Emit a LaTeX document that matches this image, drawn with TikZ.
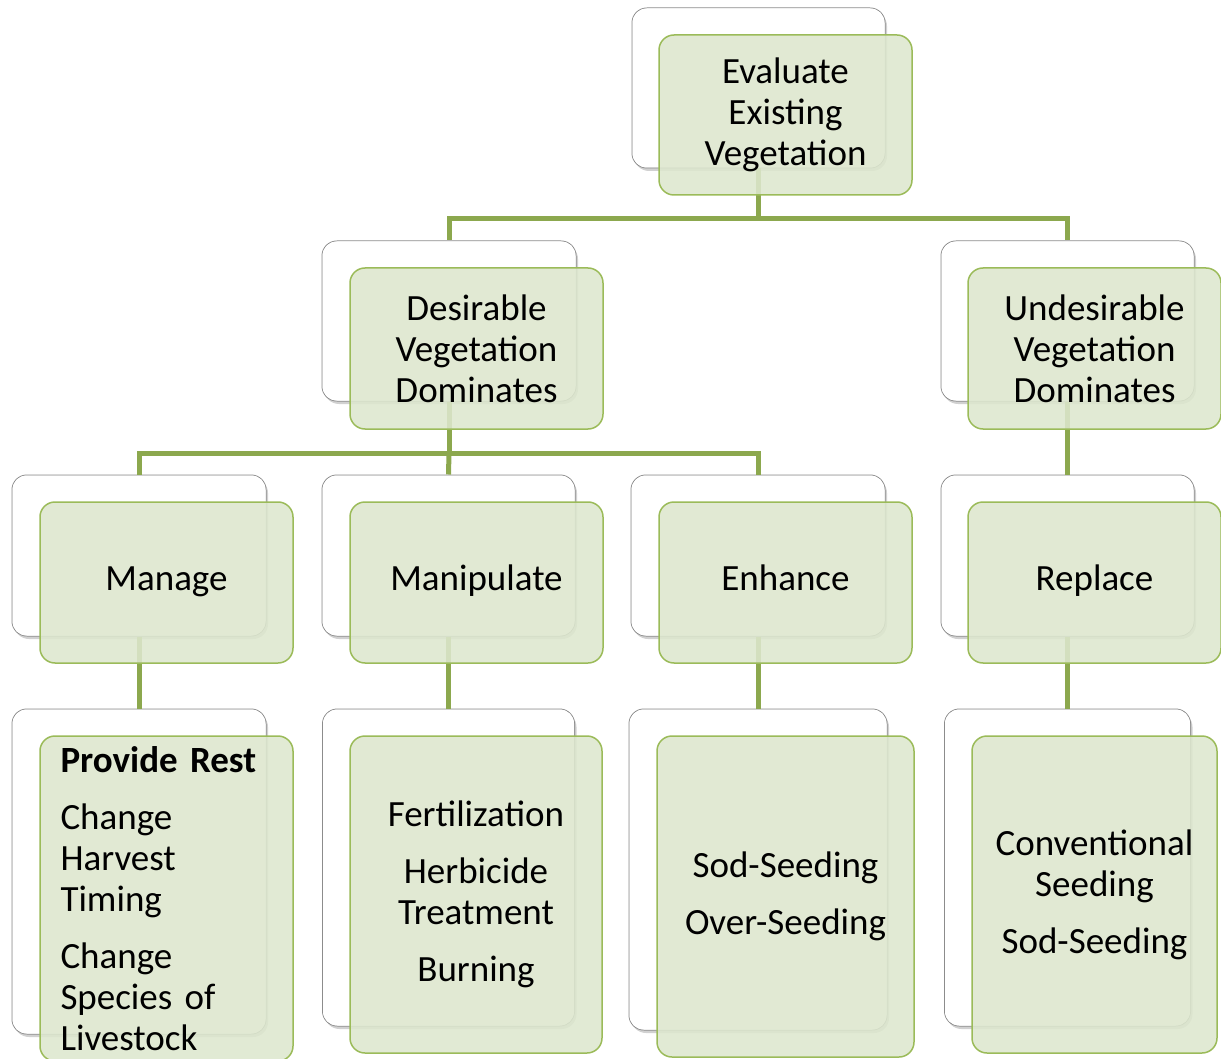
\documentclass[tikz,border=0pt]{standalone}
\usepackage{fontspec}
\setmainfont{Carlito}
\usetikzlibrary{shadows}
\definecolor{conncol}{RGB}{140,168,78}
\definecolor{frontborder}{RGB}{155,187,89}
\definecolor{frontfill}{RGB}{221,231,206}
\definecolor{backborder}{RGB}{140,140,140}
\tikzset{
  conn/.style={draw=conncol, line width=5pt},
  backbox/.style={draw=backborder, line width=1pt, fill=white, rounded corners=15pt,
    drop shadow={shadow xshift=2pt, shadow yshift=-3pt, opacity=0.3, fill=black!60}},
  frontbox/.style={draw=frontborder, line width=1.5pt, fill=frontfill, fill opacity=0.88,
    text opacity=1, rounded corners=15pt, align=center, text=black,
    font=\fontsize{37}{41}\selectfont},
}
\begin{document}
\begin{tikzpicture}[x=1pt,y=-1pt]
\useasboundingbox (0,0) rectangle (1221,1059);
\clip (0,0) rectangle (1221,1059);
% back boxes
\node[backbox, minimum width=253pt, minimum height=160pt] (b0) at (758.5,88) {};
\node[backbox, minimum width=254pt, minimum height=160pt] (b1) at (449,321) {};
\node[backbox, minimum width=253pt, minimum height=160pt] (b2) at (1067.5,321) {};
\node[backbox, minimum width=254pt, minimum height=161pt] (b3) at (139,555.5) {};
\node[backbox, minimum width=253pt, minimum height=161pt] (b4) at (448.5,555.5) {};
\node[backbox, minimum width=254pt, minimum height=161pt] (b5) at (758,555.5) {};
\node[backbox, minimum width=253pt, minimum height=161pt] (b6) at (1067.5,555.5) {};
\node[backbox, minimum width=254pt, minimum height=325pt] (b7) at (139,871.5) {};
\node[backbox, minimum width=252pt, minimum height=317pt] (b8) at (448.5,867.5) {};
\node[backbox, minimum width=258pt, minimum height=321pt] (b9) at (758,869.5) {};
\node[backbox, minimum width=246pt, minimum height=317pt] (b10) at (1067.5,867.5) {};
% connectors
\draw[conn] (b0.south) -- ++(0,50) coordinate (j0) -| (b1.north);
\draw[conn] (j0) -| (b2.north);
\draw[conn] (b1.south) -- ++(0,52) coordinate (j1) -| (b3.north);
\draw[conn] (j1) -| (b5.north);
\draw[conn] (j1) -- (b4.north);
\draw[conn] (b2.south) -- (b6.north);
\draw[conn] (b3.south) -- (b7.north);
\draw[conn] (b4.south) -- (b8.north);
\draw[conn] (b5.south) -- (b9.north);
\draw[conn] (b6.south) -- (b10.north);
% redraw back box interiors on top of connector ends
\foreach \n in {b0,b1,b2,b3,b4,b5,b6,b7,b8,b9,b10}{
  \fill[white, rounded corners=14pt] ([shift={(1pt,-1pt)}]\n.north west) rectangle ([shift={(-1pt,1pt)}]\n.south east);
}
% front boxes
\node[frontbox, minimum width=253pt, minimum height=160pt] (f0) at (785.5,115) {Evaluate\\Existing\\Vegetation};
\node[frontbox, minimum width=253pt, minimum height=161pt] (f1) at (476.5,348.5) {Desirable\\Vegetation\\Dominates};
\node[frontbox, minimum width=253pt, minimum height=161pt] (f2) at (1094.5,348.5) {Undesirable\\Vegetation\\Dominates};
\node[frontbox, minimum width=253pt, minimum height=161pt] (f3) at (166.5,582.5) {Manage\strut};
\node[frontbox, minimum width=253pt, minimum height=161pt] (f4) at (476.5,582.5) {Manipulate\strut};
\node[frontbox, minimum width=253pt, minimum height=161pt] (f5) at (785.5,582.5) {Enhance\strut};
\node[frontbox, minimum width=253pt, minimum height=161pt] (f6) at (1094.5,582.5) {Replace\strut};
\node[frontbox, minimum width=253pt, minimum height=325pt] (f7) at (166.5,898.5) {};
\node[align=left, text width=212pt, inner sep=0pt, font=\fontsize{37}{41}\selectfont] (t7) at (f7.center)
  {\textbf{Provide Rest}\\[16pt]Change\\Harvest\\Timing\\[16pt]Change\\Species of\\Livestock};
\node[frontbox, minimum width=252pt, minimum height=317pt] (f8) at (476,894.5) {Fertilization\\[16pt]Herbicide\\Treatment\\[16pt]Burning};
\node[frontbox, minimum width=257pt, minimum height=321pt] (f9) at (785.5,896.5) {Sod-Seeding\\[16pt]Over-Seeding};
\node[frontbox, minimum width=245pt, minimum height=317pt] (f10) at (1094.5,894.5) {Conventional\\Seeding\\[16pt]Sod-Seeding};
\end{tikzpicture}
\end{document}
